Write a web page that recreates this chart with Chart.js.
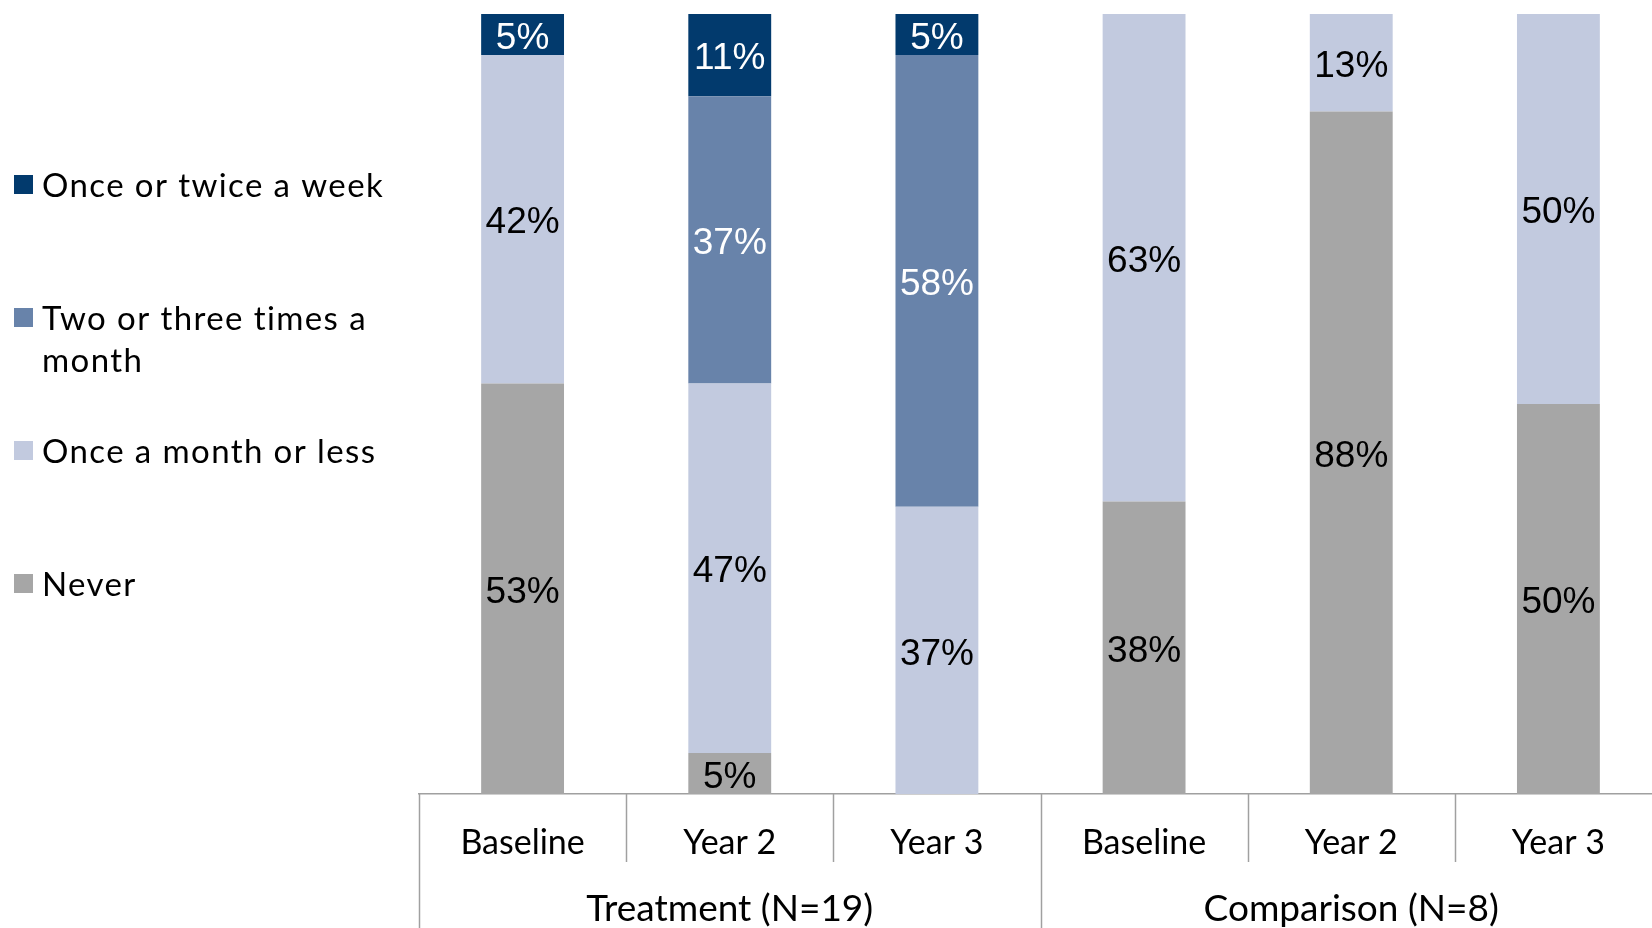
<!DOCTYPE html>
<html>
<head>
<meta charset="utf-8">
<script src="https://cdn.jsdelivr.net/npm/chart.js@4.4.1/dist/chart.umd.min.js"></script>
<style>
  html, body { margin: 0; padding: 0; background: #fff; overflow: hidden; }
  #wrap { position: absolute; left: 0; top: 0; width: 1662px; height: 928px; }
</style>
</head>
<body>
<div id="wrap"><canvas id="c"></canvas></div>
<script>
// ---- data ----
const categories = ['Baseline', 'Year 2', 'Year 3', 'Baseline', 'Year 2', 'Year 3'];
const groups = ['Treatment (N=19)', 'Comparison (N=8)'];
const groupSizes = [3, 3];
const seriesNames = ['Never', 'Once a month or less', 'Two or three times a month', 'Once or twice a week'];
const never        = [52.63, 5.26, 0, 37.5, 87.5, 50];
const monthOrLess  = [42.11, 47.37, 36.84, 62.5, 12.5, 50];
const twoThree     = [0, 36.84, 57.89, 0, 0, 0];
const onceTwiceWk  = [5.26, 10.53, 5.26, 0, 0, 0];

const colors = ['#A6A6A6', '#C2CADF', '#6883AA', '#023A6D'];
const labelColors = ['#000000', '#000000', '#FFFFFF', '#FFFFFF'];
const seriesData = [never, monthOrLess, twoThree, onceTwiceWk];

const sansGill = 'Lato, "Open Sans", sans-serif';

const datasets = seriesNames.map((name, i) => ({
  label: name,
  data: seriesData[i],
  backgroundColor: colors[i],
  borderWidth: 0,
  categoryPercentage: 1.0,
  barPercentage: 0.4,
  xAxisID: 'x',
  yAxisID: 'y'
}));

const barLabels = {
  id: 'barLabels',
  afterDatasetsDraw(chart) {
    const ctx = chart.ctx;
    ctx.save();
    ctx.font = '37px "Liberation Sans", Arial, sans-serif';
    ctx.textAlign = 'center';
    ctx.textBaseline = 'middle';
    chart.data.datasets.forEach((ds, di) => {
      const meta = chart.getDatasetMeta(di);
      meta.data.forEach((el, i) => {
        const v = ds.data[i];
        if (!v) return;
        const p = el.getProps(['x', 'y', 'base'], true);
        ctx.fillStyle = labelColors[di];
        ctx.fillText(Math.round(v) + '%', p.x, (p.y + p.base) / 2 + 4);
      });
    });
    ctx.restore();
  }
};

// category separators below the axis (short between categories, long between groups)
const separators = {
  id: 'separators',
  afterDraw(chart) {
    const xs = chart.scales.x;
    const ctx = chart.ctx;
    const n = categories.length;
    const half = (xs.getPixelForValue(1) - xs.getPixelForValue(0)) / 2;
    const groupEdges = new Set([0]);
    let acc = 0;
    groupSizes.forEach(s => { acc += s; groupEdges.add(acc); });
    ctx.save();
    ctx.strokeStyle = '#A0A0A0';
    ctx.lineWidth = 1.5;
    for (let i = 0; i <= n; i++) {
      const x = Math.round((i < n ? xs.getPixelForValue(i) - half : xs.getPixelForValue(n - 1) + half)) + 0.5;
      const y0 = xs.top;
      const y1 = groupEdges.has(i) ? chart.height : 862;
      ctx.beginPath();
      ctx.moveTo(x, y0);
      ctx.lineTo(x, y1);
      ctx.stroke();
    }
    ctx.restore();
  }
};

const sideLegend = {
  id: 'sideLegend',
  afterDraw(chart) {
    const ctx = chart.ctx;
    ctx.save();
    ctx.font = '33px ' + sansGill;
    ctx.textBaseline = 'middle';
    ctx.textAlign = 'left';
    if ('letterSpacing' in ctx) ctx.letterSpacing = '1.4px';
    const items = [
      { di: 3, lines: ['Once or twice a week'], y: 186 },
      { di: 2, lines: ['Two or three times a', 'month'], y: 319 },
      { di: 1, lines: ['Once a month or less'], y: 452 },
      { di: 0, lines: ['Never'], y: 585 }
    ];
    items.forEach(it => {
      ctx.fillStyle = chart.data.datasets[it.di].backgroundColor;
      ctx.fillRect(14, it.y - 11, 19, 19);
      ctx.fillStyle = '#000';
      it.lines.forEach((ln, k) => ctx.fillText(ln, 42, it.y + k * 42));
    });
    ctx.restore();
  }
};

new Chart(document.getElementById('c'), {
  type: 'bar',
  data: { labels: categories, datasets },
  plugins: [barLabels, separators, sideLegend],
  options: {
    responsive: true,
    maintainAspectRatio: false,
    devicePixelRatio: 1,
    animation: false,
    layout: { padding: { left: 419, top: 14, right: 0, bottom: 0 } },
    plugins: { legend: { display: false }, tooltip: { enabled: false } },
    scales: {
      y: { stacked: true, display: false, min: 0, max: 100 },
      x: {
        stacked: true,
        position: 'bottom',
        weight: 0,
        offset: true,
        grid: { display: true, offset: true, drawOnChartArea: false, drawTicks: true, tickLength: 10, color: 'rgba(0,0,0,0)' },
        border: { display: true, color: '#A0A0A0', width: 1.5 },
        ticks: { color: '#000', font: { family: sansGill, size: 34, lineHeight: 1.2 }, padding: 18.6, autoSkip: false, maxRotation: 0 }
      },
      x2: {
        type: 'category',
        labels: groups,
        position: 'bottom',
        weight: 1,
        offset: true,
        grid: { display: true, offset: true, drawOnChartArea: false, drawTicks: true, tickLength: 8, color: 'rgba(0,0,0,0)' },
        border: { display: false },
        ticks: { color: '#000', font: { family: sansGill, size: 37, lineHeight: 1.2 }, padding: -3.2, autoSkip: false, maxRotation: 0 }
      }
    }
  }
});
</script>
</body>
</html>
